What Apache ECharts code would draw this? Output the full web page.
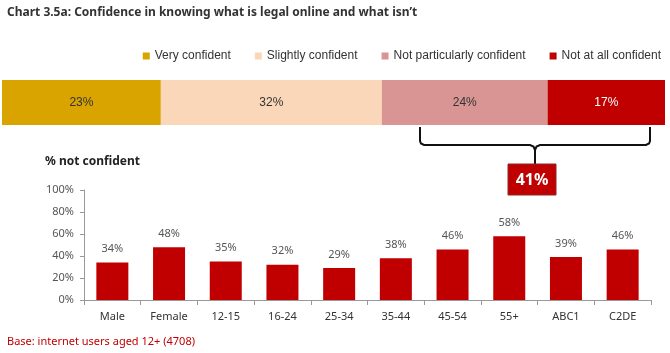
<!DOCTYPE html>
<html>
<head>
<meta charset="utf-8">
<script src="https://cdn.jsdelivr.net/npm/echarts@6/dist/echarts.min.js"></script>
<style>
  html, body { margin: 0; padding: 0; background: #fff; }
  #main { width: 670px; height: 353px; }
</style>
</head>
<body>
<div id="main"></div>
<script>
// confidence levels (top stacked bar)
var levels = ['Very confident', 'Slightly confident', 'Not particularly confident', 'Not at all confident'];
var levelValues = [23, 32, 24, 17];
var levelColors = ['#D9A300', '#FAD7B9', '#D99594', '#C00000'];

// % not confident by group
var groups = ['Male', 'Female', '12-15', '16-24', '25-34', '35-44', '45-54', '55+', 'ABC1', 'C2DE'];
var notConfident = [34, 48, 35, 32, 29, 38, 46, 58, 39, 46];
var yTicks = [0, 20, 40, 60, 80, 100];

(function(){
    var myChart = echarts.init(document.getElementById("main"));
    var font = "'Noto Sans', 'Open Sans', sans-serif";
    var total = levelValues[2] + levelValues[3];

    var stackSeries = levels.map(function (name, i) {
        return {
            name: name,
            type: 'bar',
            stack: 'all',
            xAxisIndex: 0,
            yAxisIndex: 0,
            barWidth: 45,
            itemStyle: { color: levelColors[i] },
            label: {
                show: true,
                position: 'inside',
                formatter: '{c}%',
                fontFamily: 'Liberation Sans',
                fontSize: 12,
                color: i === 3 ? '#fff' : '#333'
            },
            data: [levelValues[i]]
        };
    });

    // brace under the last two segments (annotation)
    var braceStyle = { fill: null, stroke: '#111', lineWidth: 2 };

    var option = {
        animation: false,
        textStyle: { fontFamily: font },
        title: [{
            text: 'Chart 3.5a: Confidence in knowing what is legal online and what isn\u2019t',
            left: 2, top: 2,
            textStyle: { fontSize: 12, fontWeight: 'bold', color: '#333', fontFamily: font }
        }, {
            text: '% not confident',
            left: 40, top: 151,
            textStyle: { fontSize: 12, fontWeight: 'bold', color: '#222', fontFamily: font }
        }, {
            text: 'Base: internet users aged 12+ (4708)',
            left: 2, top: 331,
            textStyle: { fontSize: 11, fontWeight: 'normal', color: '#C00000', fontFamily: font }
        }],
        legend: {
            data: levels,
            right: 4, top: 45,
            itemWidth: 7, itemHeight: 7,
            itemGap: 24,
            icon: 'rect',
            textStyle: { fontFamily: 'Liberation Sans', fontSize: 12, color: '#333' }
        },
        grid: [
            { left: 2, right: 5, top: 80, height: 45 },
            { left: 84, right: 19, top: 190, bottom: 53 }
        ],
        xAxis: [{
            gridIndex: 0, type: 'value', min: 0, max: 96, show: false
        }, {
            gridIndex: 1, type: 'category', data: groups,
            axisLine: { lineStyle: { color: '#999' } },
            axisTick: { show: true, length: 5, lineStyle: { color: '#999' } },
            axisLabel: { color: '#333', fontSize: 11, margin: 11, fontFamily: font }
        }],
        yAxis: [{
            gridIndex: 0, type: 'category', data: ['all'], show: false
        }, {
            gridIndex: 1, type: 'value', min: yTicks[0], max: yTicks[yTicks.length - 1], interval: 20,
            axisLine: { show: true, lineStyle: { color: '#999' } },
            axisTick: { show: true, length: 4, lineStyle: { color: '#999' } },
            splitLine: { show: false },
            axisLabel: { formatter: '{value}%', color: '#555', fontSize: 11, margin: 10, fontFamily: font }
        }],
        series: stackSeries.concat([{
            name: '% not confident',
            type: 'bar',
            xAxisIndex: 1,
            yAxisIndex: 1,
            barWidth: 32,
            itemStyle: { color: '#C00000' },
            label: {
                show: true, position: 'top', formatter: '{c}%',
                color: '#555', fontSize: 11, distance: 8, fontFamily: font
            },
            data: notConfident
        }]),
        graphic: [{
            type: 'polyline',
            shape: { points: [[420, 127], [420, 141], [421, 143.5], [424, 145], [530, 145], [533.5, 146.5], [535, 150], [535, 164]] },
            style: braceStyle
        }, {
            type: 'polyline',
            shape: { points: [[650, 127], [650, 141], [649, 143.5], [646, 145], [540, 145], [536.5, 146.5], [535, 150]] },
            style: braceStyle
        }, {
            type: 'rect',
            shape: { x: 508, y: 164, width: 48, height: 31 },
            style: { fill: '#C00000', stroke: '#8a2a2a', lineWidth: 1 }
        }, {
            type: 'text',
            x: 532, y: 180,
            style: {
                text: total + '%', fill: '#fff', fontSize: 16, fontWeight: 'bold',
                fontFamily: font, align: 'center', verticalAlign: 'middle'
            }
        }]
    };
    myChart.setOption(option);
})();
</script>
</body>
</html>
